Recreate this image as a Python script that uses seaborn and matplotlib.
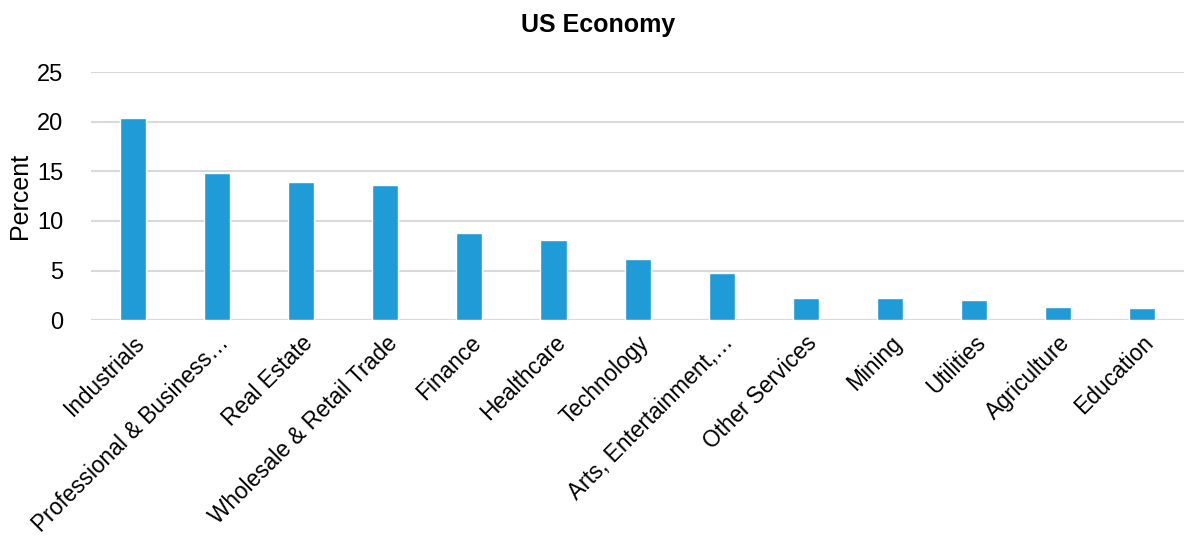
import matplotlib
matplotlib.use('Agg')
import matplotlib.pyplot as plt
import pandas as pd
import seaborn as sns

# Data
sectors = ['Industrials', 'Professional & Business\u2026', 'Real Estate',
           'Wholesale & Retail Trade', 'Finance', 'Healthcare', 'Technology',
           'Arts, Entertainment,\u2026', 'Other Services', 'Mining', 'Utilities',
           'Agriculture', 'Education']
percent = [20.4, 14.8, 13.9, 13.6, 8.8, 8.1, 6.2, 4.7, 2.2, 2.2, 2.0, 1.3, 1.2]
yticks = [0, 5, 10, 15, 20, 25]

df = pd.DataFrame({'sector': sectors, 'percent': percent})

sns.set_theme(style='white')
plt.rcParams['font.family'] = ['Liberation Sans', 'DejaVu Sans']
plt.rcParams['text.color'] = 'black'
plt.rcParams['axes.labelcolor'] = 'black'
plt.rcParams['xtick.color'] = 'black'
plt.rcParams['ytick.color'] = 'black'

fig, ax = plt.subplots(figsize=(11.85, 5.38), dpi=100)
fig.subplots_adjust(left=0.077, right=0.999, top=0.866, bottom=0.405)

sns.barplot(data=df, x='sector', y='percent', color='#1f9bd7',
            width=0.31, saturation=1, ax=ax)

ax.set_ylim(0, 25)
ax.set_yticks(yticks)
ax.set_xlim(-0.5, len(sectors) - 0.5)
ax.yaxis.grid(True, color='#d9d9d9', linewidth=1.5)
ax.set_axisbelow(True)
for s in ax.spines.values():
    s.set_visible(False)
ax.axhline(0, color='#d9d9d9', linewidth=1.5, zorder=0)

ax.tick_params(axis='y', labelsize=17, length=0, pad=20)
ax.tick_params(axis='x', labelsize=16.3, length=0, pad=8)
plt.setp(ax.get_xticklabels(), rotation=45, ha='right', rotation_mode='anchor')

ax.set_xlabel('')
ax.set_ylabel('Percent', fontsize=18, labelpad=4)
fig.suptitle('US Economy', fontsize=18, fontweight='bold', x=0.505, y=0.975)

fig.savefig('out.png', dpi=100)
